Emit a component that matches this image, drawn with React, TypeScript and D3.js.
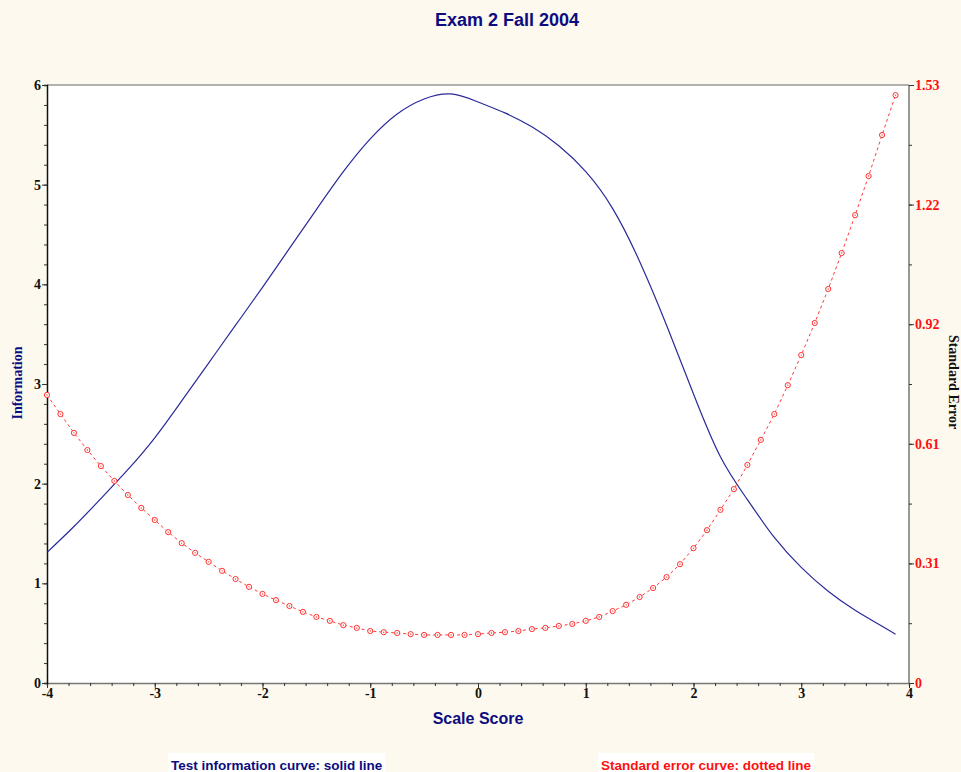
import { useEffect, useRef } from "react";
import * as d3 from "d3";

// Test information curve, read at 0.25 steps
const infoX = [-4, -3.75, -3.5, -3.25, -3, -2.75, -2.5, -2.25, -2, -1.75, -1.5, -1.25, -1, -0.75, -0.5, -0.25, 0, 0.25, 0.5, 0.75, 1, 1.25, 1.5, 1.75, 2, 2.25, 2.5, 2.75, 3, 3.25, 3.5, 3.75, 3.875];
const infoY = [1.31, 1.57, 1.85, 2.14, 2.46, 2.83, 3.21, 3.59, 3.97, 4.36, 4.75, 5.13, 5.46, 5.71, 5.86, 5.91, 5.83, 5.72, 5.58, 5.39, 5.13, 4.76, 4.23, 3.59, 2.9, 2.27, 1.84, 1.46, 1.16, 0.92, 0.73, 0.57, 0.49];

// Standard error curve, one marker every 0.125
const seX = d3.range(64).map((i) => -4 + i * 0.125);
const seY = [
  0.737, 0.688, 0.64, 0.596, 0.555, 0.517, 0.481, 0.448, 0.417, 0.386, 0.358, 0.333, 0.31, 0.287, 0.266, 0.246,
  0.228, 0.212, 0.197, 0.182, 0.169, 0.159, 0.148, 0.141, 0.133, 0.13, 0.128, 0.125, 0.123, 0.123, 0.123, 0.123,
  0.125, 0.128, 0.13, 0.133, 0.138, 0.141, 0.146, 0.151, 0.159, 0.169, 0.184, 0.2, 0.22, 0.243, 0.271, 0.304,
  0.345, 0.391, 0.443, 0.496, 0.558, 0.622, 0.688, 0.762, 0.839, 0.921, 1.008, 1.1, 1.197, 1.297, 1.402, 1.504,
];

const xTicks = [-4, -3, -2, -1, 0, 1, 2, 3, 4];
const infoTicks = [0, 1, 2, 3, 4, 5, 6];
const seTicks = [0, 0.306, 0.612, 0.918, 1.224, 1.53];
const seTickLabels = ["0", "0.31", "0.61", "0.92", "1.22", "1.53"];

export default function App() {
  const svgRef = useRef<SVGSVGElement | null>(null);

  useEffect(() => {
    if (!svgRef.current) return;
    const width = 961;
    const height = 772;
    const m = { left: 47, right: 909, top: 85, bottom: 683 };
    const serif = "'Liberation Serif', 'Times New Roman', serif";
    const sans = "'Liberation Sans', Arial, sans-serif";
    const navy = "#0c0c80";

    const svg = d3.select(svgRef.current);
    svg.selectAll("*").remove();

    svg.append("rect").attr("width", width).attr("height", height).attr("fill", "#fdf9ee");
    svg
      .append("rect")
      .attr("x", m.left)
      .attr("y", m.top)
      .attr("width", m.right - m.left)
      .attr("height", m.bottom - m.top)
      .attr("fill", "#ffffff");

    const x = d3.scaleLinear().domain([-4, 4]).range([m.left, m.right]);
    const yInfo = d3.scaleLinear().domain([0, 6]).range([m.bottom, m.top]);
    const ySe = d3.scaleLinear().domain([0, 1.53]).range([m.bottom, m.top]);

    // frame
    svg.append("line").attr("x1", m.left).attr("x2", m.right).attr("y1", m.top).attr("y2", m.top).attr("stroke", "#666");
    svg.append("line").attr("x1", m.right).attr("x2", m.right).attr("y1", m.top).attr("y2", m.bottom).attr("stroke", "#777").attr("stroke-width", 1.5);

    // bottom axis
    const xAxis = svg.append("g").attr("transform", `translate(0,${m.bottom})`);
    xAxis
      .call(d3.axisBottom(x).tickValues(d3.range(-4, 4.01, 0.2)).tickSize(3).tickFormat(() => ""))
      .call((g) => g.select(".domain").attr("stroke", "#777").attr("stroke-width", 1.5))
      .call((g) => g.selectAll(".tick line").attr("stroke", "#333"));
    const xMajor = svg.append("g").attr("transform", `translate(0,${m.bottom})`);
    xMajor
      .call(d3.axisBottom(x).tickValues(xTicks).tickSize(5).tickFormat((d) => String(d)))
      .call((g) => g.select(".domain").remove())
      .call((g) => g.selectAll(".tick line").attr("stroke", "#333"))
      .call((g) =>
        g.selectAll(".tick text").attr("font-family", serif).attr("font-weight", "bold").attr("font-size", 14).attr("fill", "#111").attr("dy", "0.5em")
      );

    // left axis
    const yAxisL = svg.append("g").attr("transform", `translate(${m.left},0)`);
    yAxisL
      .call(d3.axisLeft(yInfo).tickValues(d3.range(0, 6.01, 0.2)).tickSize(3).tickFormat(() => ""))
      .call((g) => g.select(".domain").attr("stroke", "#111").attr("stroke-width", 1.5))
      .call((g) => g.selectAll(".tick line").attr("stroke", "#333"));
    const yMajorL = svg.append("g").attr("transform", `translate(${m.left},0)`);
    yMajorL
      .call(d3.axisLeft(yInfo).tickValues(infoTicks).tickSize(5).tickFormat((d) => String(d)))
      .call((g) => g.select(".domain").remove())
      .call((g) => g.selectAll(".tick line").attr("stroke", "#333"))
      .call((g) =>
        g.selectAll(".tick text").attr("font-family", serif).attr("font-weight", "bold").attr("font-size", 14).attr("fill", "#111").attr("x", -6)
      );

    // right axis
    const yAxisR = svg.append("g").attr("transform", `translate(${m.right},0)`);
    yAxisR
      .call(d3.axisRight(ySe).tickValues(d3.range(0, 11).map((i) => i * 0.153)).tickSize(3).tickFormat(() => ""))
      .call((g) => g.select(".domain").remove())
      .call((g) => g.selectAll(".tick line").attr("stroke", "#333"));
    const yMajorR = svg.append("g").attr("transform", `translate(${m.right},0)`);
    yMajorR
      .call(d3.axisRight(ySe).tickValues(seTicks).tickSize(5).tickFormat((_, i) => seTickLabels[i]))
      .call((g) => g.select(".domain").remove())
      .call((g) => g.selectAll(".tick line").attr("stroke", "#333"))
      .call((g) =>
        g.selectAll(".tick text").attr("font-family", serif).attr("font-weight", "bold").attr("font-size", 14).attr("fill", "#ff1010").attr("x", 6)
      );

    // information curve
    const infoLine = d3
      .line<number>()
      .x((_, i) => x(infoX[i]))
      .y((d) => yInfo(d))
      .curve(d3.curveNatural);
    svg.append("path").attr("d", infoLine(infoY)).attr("fill", "none").attr("stroke", "#2a2a9a").attr("stroke-width", 1.2);

    // standard error curve
    const seLine = d3
      .line<number>()
      .x((_, i) => x(seX[i]))
      .y((d) => ySe(d));
    svg
      .append("path")
      .attr("d", seLine(seY))
      .attr("fill", "none")
      .attr("stroke", "#ff3a3a")
      .attr("stroke-width", 1)
      .attr("stroke-dasharray", "3,3");
    const marks = svg.append("g");
    marks
      .selectAll("circle.m")
      .data(seY)
      .join("circle")
      .attr("class", "m")
      .attr("cx", (_, i) => x(seX[i]))
      .attr("cy", (d) => ySe(d))
      .attr("r", 2.6)
      .attr("fill", "#fff")
      .attr("stroke", "#ff3030")
      .attr("stroke-width", 1);
    marks
      .selectAll("circle.c")
      .data(seY)
      .join("circle")
      .attr("class", "c")
      .attr("cx", (_, i) => x(seX[i]))
      .attr("cy", (d) => ySe(d))
      .attr("r", 0.7)
      .attr("fill", "#ff3030");

    // titles
    svg
      .append("text")
      .attr("x", 507)
      .attr("y", 26)
      .attr("text-anchor", "middle")
      .attr("font-family", sans)
      .attr("font-weight", "bold")
      .attr("font-size", 18)
      .attr("fill", navy)
      .text("Exam 2 Fall 2004");

    svg
      .append("text")
      .attr("x", 478)
      .attr("y", 724)
      .attr("text-anchor", "middle")
      .attr("font-family", sans)
      .attr("font-weight", "bold")
      .attr("font-size", 16)
      .attr("fill", navy)
      .text("Scale Score");

    svg
      .append("text")
      .attr("transform", "translate(22,383) rotate(-90)")
      .attr("text-anchor", "middle")
      .attr("font-family", serif)
      .attr("font-weight", "bold")
      .attr("font-size", 14)
      .attr("fill", navy)
      .text("Information");

    svg
      .append("text")
      .attr("transform", "translate(949,382) rotate(90)")
      .attr("text-anchor", "middle")
      .attr("font-family", serif)
      .attr("font-weight", "bold")
      .attr("font-size", 14)
      .attr("fill", "#111")
      .text("Standard Error");

    // legend notes
    const notes = [
      { text: "Test information curve: solid line", x: 168, color: navy },
      { text: "Standard error curve: dotted line", x: 598, color: "#ff1010" },
    ];
    notes.forEach((n) => {
      const g = svg.append("g");
      const t = g
        .append("text")
        .attr("x", n.x + 3)
        .attr("y", 770)
        .attr("font-family", sans)
        .attr("font-weight", "bold")
        .attr("font-size", 13.5)
        .attr("fill", n.color)
        .text(n.text);
      const w = (t.node() as SVGTextElement).getComputedTextLength();
      g.insert("rect", "text").attr("x", n.x).attr("y", 753).attr("width", w + 6).attr("height", 19).attr("fill", "#fff");
    });
  }, []);

  return (
    <svg
      ref={svgRef}
      width={961}
      height={772}
      style={{ position: "absolute", left: 0, top: 0 }}
    ></svg>
  );
}
